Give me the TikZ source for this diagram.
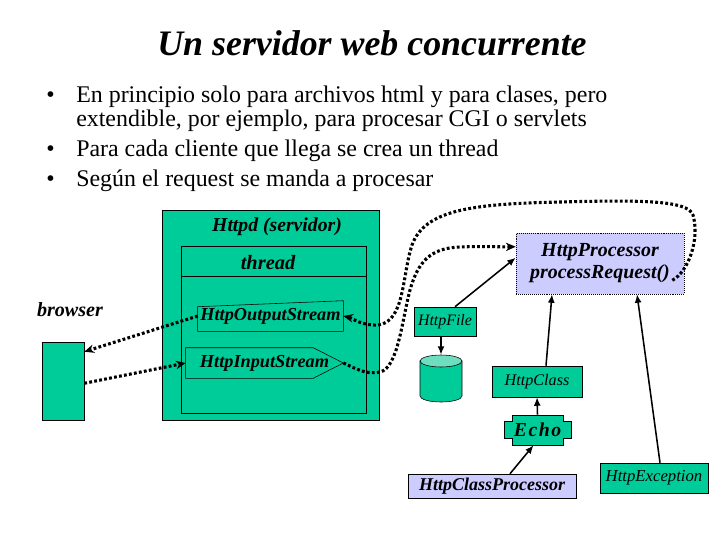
\documentclass[tikz,border=0pt]{standalone}
\usepackage{fontspec}
\setmainfont{Liberation Serif}
\usetikzlibrary{arrows.meta}
\definecolor{servteal}{RGB}{0,204,153}
\definecolor{servlila}{RGB}{204,204,255}
\definecolor{servpale}{RGB}{110,222,190}

\begin{document}
\begin{tikzpicture}[x=0.025cm, y=-0.025cm,
  cls/.style={draw, fill=servteal, inner sep=0pt, font=\fontsize{11.3}{13}\selectfont\itshape},
  procbox/.style={draw, densely dotted, fill=servlila, inner sep=0pt},
  bolditalic/.style={inner sep=0pt, font=\fontsize{13}{15}\selectfont\bfseries\itshape},
  bullettext/.style={anchor=base west, inner sep=0pt, font=\fontsize{17}{20}\selectfont},
  msg/.style={line width=2.2pt, dash pattern=on 2pt off 1.6pt, -{Stealth[length=7pt,width=6pt]}},
  uses/.style={line width=1.1pt, -{Latex[length=6pt,width=5pt]}}]
  \useasboundingbox (0,0) rectangle (720,540);
  % Title and bullets
  \node[font=\fontsize{25.5}{30}\selectfont\bfseries\itshape] (title) at (372,43) {Un servidor web concurrente};
  \node[bullettext] (dot1) at (46,102) {\textbullet};
  \node[bullettext] (item1) at (76,102) {En principio solo para archivos html y para clases, pero};
  \node[bullettext] (item1b) at (76,126) {extendible, por ejemplo, para procesar CGI o servlets};
  \node[bullettext] (dot2) at (46,156) {\textbullet};
  \node[bullettext] (item2) at (76,156) {Para cada cliente que llega se crea un thread};
  \node[bullettext] (dot3) at (46,186) {\textbullet};
  \node[bullettext] (item3) at (76,186) {Según el request se manda a procesar};
  % Httpd server box
  \node[cls, minimum width=5.425cm, minimum height=5.25cm] (httpd) at (270.5,315) {};
  \node[bolditalic, font=\fontsize{14}{16}\selectfont\bfseries\itshape] (httpdlbl) at (277,227) {Httpd (servidor)};
  \node[draw, minimum width=4.625cm, minimum height=4.175cm] (thread) at (273.5,329.5) {};
  \draw (181,276) -- (366,276);
  \node[bolditalic, font=\fontsize{14.5}{16}\selectfont\bfseries\itshape] (threadlbl) at (268,263) {thread};
  % Streams
  \node[bolditalic, minimum width=3.625cm, minimum height=0.75cm] (out) at (270.5,316) {HttpOutputStream};
  \draw (out.south west) -- (out.south east) -- (out.north east) -- ([yshift=-0.15cm]out.north west) -- cycle;
  \node[bolditalic, minimum width=3.925cm, minimum height=0.75cm] (in) at (264.5,363) {HttpInputStream};
  \draw (in.south west) -- ([xshift=-0.75cm]in.south east) -- (in.east) -- ([xshift=-0.75cm]in.north east) -- (in.north west) -- cycle;
  % Browser
  \node[cls, minimum width=1.05cm, minimum height=1.95cm] (browser) at (63,381) {};
  \node[bolditalic, font=\fontsize{14.3}{16}\selectfont\bfseries\itshape] (browserlbl) at (70,310) {browser};
  % Processor
  \node[procbox, align=center, font=\fontsize{14.2}{15.6}\selectfont\bfseries\itshape,
        minimum width=4.2cm, minimum height=1.525cm] (proc) at (600,263.5) {HttpProcessor\\processRequest()};
  % File and disk
  \node[cls, minimum width=1.55cm, minimum height=0.725cm] (file) at (445,321.5) {HttpFile};
  \node[minimum width=1.05cm, minimum height=1.175cm, inner sep=0pt] (db) at (441,378.5) {};
  \filldraw[fill=servteal] (420,361) -- (420,396) arc[start angle=180, end angle=360, x radius=0.525cm, y radius=0.15cm] -- (462,361) -- cycle;
  \filldraw[fill=servpale] (441,361) ellipse[x radius=0.525cm, y radius=0.15cm];
  % Classes
  \node[cls, font=\fontsize{11.5}{13}\selectfont\itshape, minimum width=2.25cm, minimum height=0.775cm] (cls) at (537,381.5) {HttpClass};
  \filldraw[fill=servteal] (512,415) -- (563,415) -- (563,421) -- (571,421) -- (571,438) -- (563,438) -- (563,445)
    -- (512,445) -- (512,438) -- (504,438) -- (504,421) -- (512,421) -- cycle;
  \node[font=\fontsize{14}{16}\selectfont\bfseries\itshape\addfontfeatures{LetterSpace=8}, minimum width=1.675cm,
        minimum height=0.75cm, inner sep=0pt] (echo) at (537.5,430) {Echo};
  \node[procbox, draw, solid, font=\fontsize{12.8}{15}\selectfont\bfseries\itshape, minimum width=4.2cm, minimum height=0.6cm] (cproc) at (492,486) {HttpClassProcessor};
  \node[cls, font=\fontsize{11.9}{13}\selectfont\itshape, minimum width=2.7cm, minimum height=0.75cm] (exc) at (654,478) {HttpException};
  % Messages
  \draw[msg] (out.west) -- ([yshift=-0.25cm]browser.north east);
  \draw[msg] ([yshift=0.925cm]browser.south east) -- (in.west);
  \draw[msg] (in.east) .. controls (355,368) and (365,375) .. (380,372)
    .. controls (398,368) and (402,320) .. (410,290)
    .. controls (418,262) and (430,248) .. (460,247)
    .. controls (480,246) and (500,247) .. ([yshift=-0.35cm]proc.north west);
  \draw[msg] ([xshift=-0.3cm,yshift=0.35cm]proc.south east) .. controls (688,272) and (700,240) .. (693,215)
    .. controls (688,200) and (640,200) .. (560,202)
    .. controls (470,204) and (425,210) .. (412,245)
    .. controls (402,275) and (405,322) .. (378,325)
    .. controls (362,326) and (352,318) .. (out.east);
  % Uses
  \draw[uses] ([xshift=0.25cm]file.north) -- ([yshift=-0.625cm]proc.north west);
  \draw[uses] (file.south -| db.north) -- (db.north);
  \draw[uses] ([xshift=0.225cm]cls.north) -- ([xshift=-1.2cm]proc.south);
  \draw[uses] (echo.north) -- (cls.south);
  \draw[uses] ([xshift=0.45cm]cproc.north) -- ([xshift=-0.1cm]echo.south);
  \draw[uses] ([xshift=0.15cm]exc.north) -- ([xshift=0.925cm]proc.south);
\end{tikzpicture}
\end{document}
